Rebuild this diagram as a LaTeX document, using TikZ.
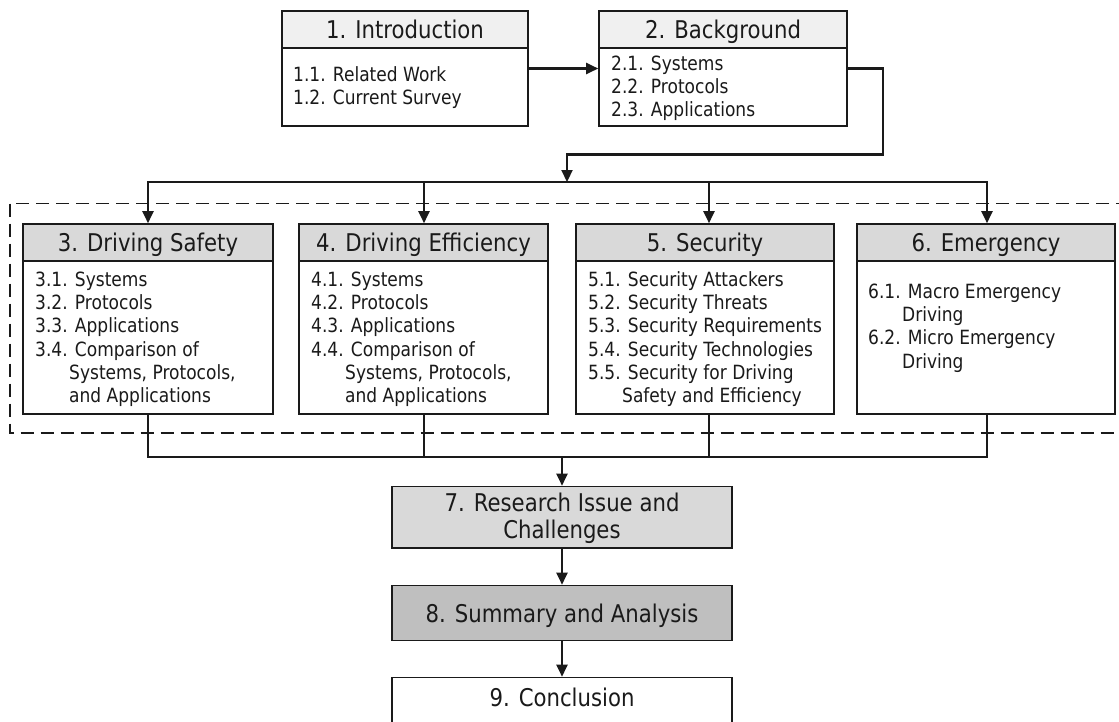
\documentclass[tikz,border=0pt]{standalone}
\usepackage{fontspec}
\setmainfont{DejaVu Sans}[FakeStretch=0.87]
\usetikzlibrary{arrows.meta}

\definecolor{inkline}{HTML}{1A1A1A}
\definecolor{headlight}{HTML}{F0F0F0}
\definecolor{headmid}{HTML}{D9D9D9}
\definecolor{headdark}{HTML}{BFBFBF}

\tikzset{
  frame/.style={draw=inkline, line width=1.6pt, rectangle, inner sep=0pt, fill=white},
  titlefont/.style={font=\fontsize{24.4}{27}\selectfont, text=inkline},
  titlebox/.style={frame, titlefont, text height=18.2pt, text depth=0pt},
  bodytext/.style={anchor=north west, inner sep=0pt, align=left, text=inkline,
                   font=\fontsize{19.6}{23.3}\selectfont},
  link/.style={draw=inkline, line width=2.2pt},
  linkarrow/.style={link, -{Triangle[length=12pt,width=11pt]}},
  groupframe/.style={draw=inkline, line width=1.3pt, dash pattern=on 13pt off 7pt},
}

\newcommand{\contline}{\hspace*{34pt}}

\begin{document}
\begin{tikzpicture}[x=1pt, y=-1pt]
  \useasboundingbox (0,0) rectangle (1119,721);
  \clip (0,0) rectangle (1119,721);

  % dashed frame around the four core chapters
  \draw[groupframe] (10,203.5) rectangle (1140,433);

  % 1. Introduction
  \node[frame, minimum width=246pt, minimum height=115pt] (b1) at (405,68.5) {};
  \node[titlebox, fill=headlight, minimum width=246pt, minimum height=37pt, anchor=north]
    (h1) at (b1.north) {1. Introduction};
  \node[bodytext] (l1) at (293,64.7) {\strut 1.1. Related Work\\1.2. Current Survey};

  % 2. Background
  \node[frame, minimum width=248pt, minimum height=115pt] (b2) at (723,68.5) {};
  \node[titlebox, fill=headlight, minimum width=248pt, minimum height=37pt, anchor=north]
    (h2) at (b2.north) {2. Background};
  \node[bodytext] (l2) at (611,53.7) {\strut 2.1. Systems\\2.2. Protocols\\2.3. Applications};

  % 3. Driving Safety
  \node[frame, minimum width=250pt, minimum height=190pt] (b3) at (148,319) {};
  \node[titlebox, fill=headmid, minimum width=250pt, minimum height=37pt, anchor=north]
    (h3) at (b3.north) {3. Driving Safety};
  \node[bodytext] (l3) at (35,269.7) {\strut 3.1. Systems\\3.2. Protocols\\3.3. Applications\\
    3.4. Comparison of\\\contline Systems, Protocols,\\\contline and Applications};

  % 4. Driving Efficiency
  \node[frame, minimum width=249pt, minimum height=190pt] (b4) at (423.5,319) {};
  \node[titlebox, fill=headmid, minimum width=249pt, minimum height=37pt, anchor=north]
    (h4) at (b4.north) {4. Driving Efficiency};
  \node[bodytext] (l4) at (311,269.7) {\strut 4.1. Systems\\4.2. Protocols\\4.3. Applications\\
    4.4. Comparison of\\\contline Systems, Protocols,\\\contline and Applications};

  % 5. Security
  \node[frame, minimum width=258pt, minimum height=190pt] (b5) at (705,319) {};
  \node[titlebox, fill=headmid, minimum width=258pt, minimum height=37pt, anchor=north]
    (h5) at (b5.north) {5. Security};
  \node[bodytext] (l5) at (588,269.7) {\strut 5.1. Security Attackers\\5.2. Security Threats\\
    5.3. Security Requirements\\5.4. Security Technologies\\5.5. Security for Driving\\
    \contline Safety and Efficiency};

  % 6. Emergency
  \node[frame, minimum width=258pt, minimum height=190pt] (b6) at (986,319) {};
  \node[titlebox, fill=headmid, minimum width=258pt, minimum height=37pt, anchor=north]
    (h6) at (b6.north) {6. Emergency};
  \node[bodytext] (l6) at (868,281.7) {\strut 6.1. Macro Emergency\\\contline Driving\\
    6.2. Micro Emergency\\\contline Driving};

  % 7 - 9
  \node[frame, fill=headmid, minimum width=340pt, minimum height=61.5pt] (b7) at (562,517.25) {};
  \node[titlefont, anchor=north, align=center, inner sep=0pt] (t7) at (562,492.1)
    {\strut 7. Research Issue and\\Challenges};
  \node[titlebox, fill=headdark, minimum width=340pt, minimum height=55pt] (b8) at (562,613)
    {8. Summary and Analysis};
  \node[frame, minimum width=340pt, minimum height=62.5pt] (b9) at (562,708.75) {};
  \node[titlefont, inner sep=0pt, text height=18.2pt, text depth=0pt] (t9) at (562,697.5)
    {9. Conclusion};

  % connectors between the opening chapters
  \draw[linkarrow] (b1.east) -- (b2.west);
  \coordinate (s1) at (883,68.5);
  \coordinate (s2) at (567,154.5);
  \coordinate (s3) at (567,182);
  \draw[linkarrow] (b2.east) -- (s1) |- (s2) -- (s3);

  % distribution bus to the core chapters
  \coordinate (t3) at (148,182);
  \coordinate (t4) at (424,182);
  \coordinate (t5) at (709,182);
  \coordinate (t6) at (987,182);
  \draw[link, line cap=rect] (t3) -- (t6);
  \draw[linkarrow] (t3) -- (t3 |- b3.north);
  \draw[linkarrow] (t4) -- (t4 |- b4.north);
  \draw[linkarrow] (t5) -- (t5 |- b5.north);
  \draw[linkarrow] (t6) -- (t6 |- b6.north);

  % collecting bus below the core chapters
  \coordinate (u3) at (148,457);
  \coordinate (u4) at (424,457);
  \coordinate (u5) at (709,457);
  \coordinate (u6) at (987,457);
  \draw[link] (u3 |- b3.south) -- (u3) -- (u6) -- (u6 |- b6.south);
  \draw[link] (u4 |- b4.south) -- (u4);
  \draw[link] (u5 |- b5.south) -- (u5);
  \draw[linkarrow] (b7.north |- u3) -- (b7.north);

  \draw[linkarrow] (b7.south) -- (b8.north);
  \draw[linkarrow] (b8.south) -- (b9.north);
\end{tikzpicture}
\end{document}
